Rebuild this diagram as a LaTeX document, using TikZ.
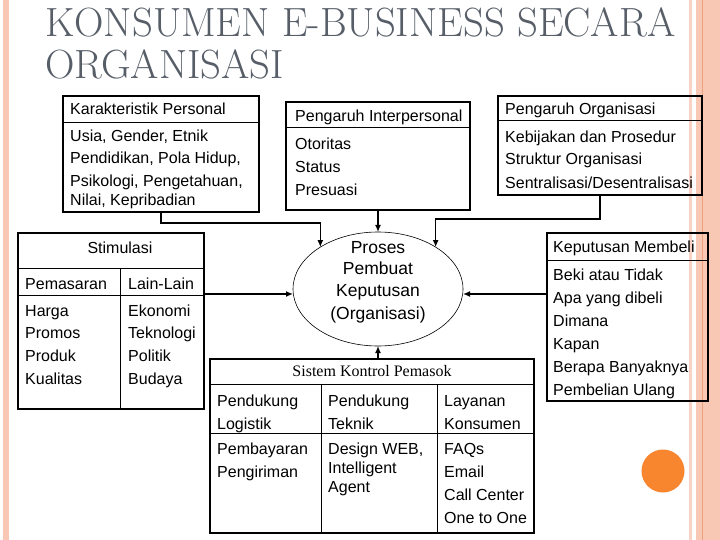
\documentclass[tikz,border=0pt]{standalone}
\usepackage{fontspec}
\setsansfont{Liberation Sans}
\newfontfamily\serifb{Liberation Serif}
\usetikzlibrary{arrows.meta,shapes.geometric}
\definecolor{salmon}{HTML}{F9C8B4}
\definecolor{palesal}{HTML}{F8D2C4}
\definecolor{strline}{HTML}{EE9F7C}
\definecolor{titlegray}{HTML}{575E68}
\definecolor{dotc}{HTML}{F7862F}
\tikzset{
 boxf/.style={draw=black, line width=1.5pt, inner sep=0pt, outer sep=0pt},
 divl/.style={line width=0.8pt},
 txt/.style={anchor=base west, inner sep=0pt, font=\sffamily\fontsize{16}{19}\selectfont},
 ctxt/.style={anchor=base, inner sep=0pt, font=\sffamily\fontsize{16}{19}\selectfont},
 etxt/.style={anchor=base, inner sep=0pt, font=\sffamily\fontsize{17.5}{21}\selectfont},
 arr/.style={line width=1.6pt, -{Latex[length=7pt,width=6pt]}},
 ttl/.style={anchor=base west, inner sep=0pt, text=titlegray, font=\fontsize{40.8}{48}\selectfont},
}
\begin{document}
\begin{tikzpicture}[x=1pt,y=-1pt]
\useasboundingbox (0,0) rectangle (720,540);
\fill[white] (0,0) rectangle (720,540);
\fill[salmon] (3,0) rectangle (9,540);
\fill[palesal] (689,0) rectangle (692,540);
\fill[salmon] (696,0) rectangle (720,540);
\draw[strline, line width=1pt] (702,0) -- (702,540);
\fill[dotc] (663,471) circle (21.5);

% title
\node[ttl] (t1) at (45,37) {KONSUMEN E-BUSINESS SECARA};
\node[ttl] (t2) at (45,79) {ORGANISASI};

% boxes
\node[boxf, minimum width=196pt, minimum height=116pt] (kp) at (161,154) {};
\node[boxf, minimum width=184pt, minimum height=108pt] (pi) at (378,156) {};
\node[boxf, minimum width=204pt, minimum height=99pt] (po) at (600,145.5) {};
\node[boxf, minimum width=186pt, minimum height=176pt] (stim) at (111,321) {};
\node[boxf, minimum width=161pt, minimum height=168pt] (kb) at (627.5,317) {};
\node[boxf, minimum width=324pt, minimum height=174pt] (sk) at (372,446) {};
\node[draw=black, line width=0.6pt, ellipse, minimum width=170pt, minimum height=114pt, inner sep=0pt, outer sep=0pt] (proc) at (378,289) {};

% dividers
\draw[divl] (63,122) -- (259,122);
\draw[divl] (286,127) -- (470,127);
\draw[divl] (498,120) -- (702,120);
\draw[divl] (18,268) -- (204,268);
\draw[divl] (18,295) -- (204,295);
\draw[divl] (120,268) -- (120,409);
\draw[divl] (547,260) -- (708,260);
\draw[divl] (210,384) -- (534,384);
\draw[divl] (210,433) -- (534,433);
\draw[divl] (321,384) -- (321,533);
\draw[divl] (437,384) -- (437,533);

% box 1 text
\node[txt] (kp0) at (70,114.5) {Karakteristik Personal};
\node[txt] (kp1) at (70,141.5) {Usia, Gender, Etnik};
\node[txt] (kp2) at (70,164) {Pendidikan, Pola Hidup,};
\node[txt] (kp3) at (70,186.5) {Psikologi, Pengetahuan,};
\node[txt] (kp4) at (70,205.5) {Nilai, Kepribadian};

% box 2 text
\node[txt] (pi0) at (295,121.5) {Pengaruh Interpersonal};
\node[txt] (pi1) at (295,149.5) {Otoritas};
\node[txt] (pi2) at (295,172.5) {Status};
\node[txt] (pi3) at (295,195.5) {Presuasi};

% box 3 text
\node[txt] (po0) at (505,114.5) {Pengaruh Organisasi};
\node[txt] (po1) at (505,142.5) {Kebijakan dan Prosedur};
\node[txt] (po2) at (505,164.5) {Struktur Organisasi};
\node[txt] (po3) at (505,188.5) {Sentralisasi/Desentralisasi};

% stimulasi text
\node[ctxt] (st0) at (120,253.5) {Stimulasi};
\node[txt] (sa0) at (25,289.5) {Pemasaran};
\node[txt] (sa1) at (25,316.5) {Harga};
\node[txt] (sa2) at (25,338.5) {Promos};
\node[txt] (sa3) at (25,361.5) {Produk};
\node[txt] (sa4) at (25,384.5) {Kualitas};
\node[txt] (sb0) at (128,289.5) {Lain-Lain};
\node[txt] (sb1) at (128,316.5) {Ekonomi};
\node[txt] (sb2) at (128,338.5) {Teknologi};
\node[txt] (sb3) at (128,361.5) {Politik};
\node[txt] (sb4) at (128,384.5) {Budaya};

% keputusan text
\node[txt] (kb0) at (553,252.5) {Keputusan Membeli};
\node[txt] (kb1) at (553,280.5) {Beki atau Tidak};
\node[txt] (kb2) at (553,303.5) {Apa yang dibeli};
\node[txt] (kb3) at (553,326.5) {Dimana};
\node[txt] (kb4) at (553,349.5) {Kapan};
\node[txt] (kb5) at (553,372.5) {Berapa Banyaknya};
\node[txt] (kb6) at (553,395.5) {Pembelian Ulang};

% sistem text
\node[anchor=base, inner sep=0pt, font=\serifb\fontsize{16}{19}\selectfont] (sk0) at (372,376.5) {Sistem Kontrol Pemasok};
\node[txt] (ska1) at (217,406.5) {Pendukung};
\node[txt] (ska2) at (217,429.5) {Logistik};
\node[txt] (ska3) at (217,454.5) {Pembayaran};
\node[txt] (ska4) at (217,477.5) {Pengiriman};
\node[txt] (skb1) at (328,406.5) {Pendukung};
\node[txt] (skb2) at (328,429.5) {Teknik};
\node[txt] (skb3) at (328,454.5) {Design WEB,};
\node[txt] (skb4) at (328,473.5) {Intelligent};
\node[txt] (skb5) at (328,492.5) {Agent};
\node[txt] (skc1) at (444,406.5) {Layanan};
\node[txt] (skc2) at (444,429.5) {Konsumen};
\node[txt] (skc3) at (444,454.5) {FAQs};
\node[txt] (skc4) at (444,477.5) {Email};
\node[txt] (skc5) at (444,500.5) {Call Center};
\node[txt] (skc6) at (444,523.5) {One to One};

% ellipse text
\node[etxt] (e1) at (378,253) {Proses};
\node[etxt] (e2) at (378,274.5) {Pembuat};
\node[etxt] (e3) at (378,296.5) {Keputusan};
\node[etxt] (e4) at (378,319) {(Organisasi)};

% connectors
\coordinate (j1) at (161,223);
\coordinate (j3) at (600,219);
\coordinate (s1) at (204,294);
\coordinate (s2) at (547,294);
\draw[arr] (kp.south) -- (j1) -| (proc.144);
\draw[arr] (pi.south) -- (proc.north);
\draw[arr] (po.south) -- (j3) -| (proc.36);
\draw[arr] (s1) -- (s1 -| proc.west);
\draw[arr] (s2) -- (s2 -| proc.east);
\draw[arr] (sk.north -| proc.south) -- (proc.south);
\end{tikzpicture}
\end{document}
